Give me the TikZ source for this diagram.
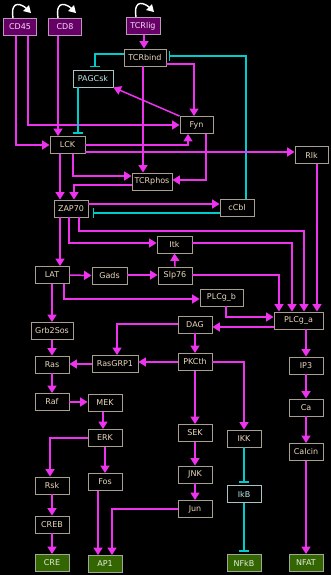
\documentclass[tikz,border=0pt]{standalone}
\usepackage{fontspec}
\setmainfont{DejaVu Sans}
\usetikzlibrary{arrows.meta}
\definecolor{nborder}{HTML}{A89F90}
\definecolor{ntext}{HTML}{EAD9BE}
\definecolor{pfill}{HTML}{660066}
\definecolor{pborder}{HTML}{B89AB8}
\definecolor{ptext}{HTML}{F4DDF4}
\definecolor{gfill}{HTML}{336600}
\definecolor{gborder}{HTML}{A0A89A}
\definecolor{gtext}{HTML}{E4EEE0}
\definecolor{ctext}{HTML}{BFE6E6}
\definecolor{cborder}{HTML}{A8C4C4}
\definecolor{mag}{HTML}{EE33EE}
\definecolor{cyn}{HTML}{00CCCC}
\newcommand\myvto[3][act]{\path #2 coordinate (tmpA); \draw[#1] (tmpA) -- (tmpA |- #3);}
\newcommand\myhto[3][act]{\path #2 coordinate (tmpA); \draw[#1] (tmpA) -- (tmpA -| #3);}
\tikzset{
  box/.style={draw=nborder, fill=black, text=ntext, minimum height=17pt, minimum width=34pt,
    inner sep=0pt, line width=0.9pt, font=\fontsize{8}{9}\selectfont},
  pbox/.style={box, fill=pfill, draw=pborder, text=ptext},
  gbox/.style={box, fill=gfill, draw=gborder, text=gtext},
  cbox/.style={box, draw=cborder, text=ctext},
  act/.style={color=mag, line width=1.5pt, -{Triangle[width=9pt,length=7.5pt]}},
  inh/.style={color=cyn, line width=1.5pt, -{Bar[width=10pt]}, shorten >=2.5pt},
  loopst/.style={color=white, line width=1.4pt, -{Triangle[width=8pt,length=7pt]}}
}
\begin{document}
\begin{tikzpicture}[x=1pt,y=-1pt]
\useasboundingbox (0,0) rectangle (331,575);
\fill[black] (0,0) rectangle (331,575);
% nodes
\node[pbox, minimum width=33pt] (CD45) at (20,27) {CD45};
\node[pbox, minimum width=33pt] (CD8) at (65,27) {CD8};
\node[pbox] (TCRlig) at (143,26) {TCRlig};
\node[box, minimum width=42pt] (TCRbind) at (145,57.5) {TCRbind};
\node[cbox, minimum width=40pt] (PAGCsk) at (93,78.5) {PAGCsk};
\node[box, minimum width=33pt] (Fyn) at (196.5,125) {Fyn};
\node[box, minimum width=35pt] (LCK) at (67.5,145) {LCK};
\node[box, minimum width=33pt] (Rlk) at (311.5,155) {Rlk};
\node[box, minimum width=40pt] (TCRphos) at (152,181.5) {TCRphos};
\node[box] (ZAP70) at (71,208.5) {ZAP70};
\node[box] (cCbl) at (237,208) {cCbl};
\node[box, minimum width=35pt] (Itk) at (174.5,244.5) {Itk};
\node[box] (LAT) at (52,275) {LAT};
\node[box, minimum width=35pt] (Gads) at (109.5,275.5) {Gads};
\node[box] (Slp76) at (175,275.5) {Slp76};
\node[box, minimum width=43pt] (PLCgb) at (221.5,297.5) {PLCg\_b};
\node[box, minimum width=49pt] (PLCga) at (298.5,320.5) {PLCg\_a};
\node[box] (DAG) at (195,324.5) {DAG};
\node[box, minimum width=42pt] (Grb2Sos) at (52,331) {Grb2Sos};
\node[box] (Ras) at (52,364.5) {Ras};
\node[box, minimum width=46pt] (RasGRP1) at (115,364) {RasGRP1};
\node[box] (PKCth) at (195,362) {PKCth};
\node[box] (IP3) at (306,365.5) {IP3};
\node[box] (Raf) at (52,402) {Raf};
\node[box] (MEK) at (105,403) {MEK};
\node[box] (Ca) at (306,407.5) {Ca};
\node[box] (ERK) at (105,438) {ERK};
\node[box] (SEK) at (195,433) {SEK};
\node[box] (IKK) at (244,438.5) {IKK};
\node[box] (Calcin) at (306,452) {Calcin};
\node[box] (Rsk) at (52,485.5) {Rsk};
\node[box] (Fos) at (105,482) {Fos};
\node[box] (JNK) at (195,474.5) {JNK};
\node[cbox] (IkB) at (244,494) {IkB};
\node[box] (Jun) at (195,509) {Jun};
\node[box] (CREB) at (52,524.5) {CREB};
\node[gbox] (CRE) at (52,563) {CRE};
\node[gbox] (AP1) at (105,564) {AP1};
\node[gbox] (NFkB) at (244,563) {NFkB};
\node[gbox] (NFAT) at (306,563) {NFAT};
% self loops
\foreach \n in {CD45,CD8,TCRlig}{
  \draw[loopst] ([xshift=-7pt]\n.north) .. controls +(-3,-20) and +(-8,-8) .. ([xshift=11pt,yshift=5pt]\n.north);
}
% edges
\myvto{([xshift=1pt]TCRlig.south)}{TCRbind.north}
\draw[act] ([xshift=-4pt]CD45.south) |- (LCK.west);
\draw[act] ([xshift=8pt]CD45.south) |- (Fyn.west);
\myvto{([xshift=-7pt]CD8.south)}{LCK.north}
\draw[inh] ([yshift=3.5pt]TCRbind.west) -| ([xshift=2pt]PAGCsk.north);
\myvto{([xshift=-2pt]TCRbind.south)}{TCRphos.north}
\draw[act] ([yshift=-6.5pt]TCRbind.east) -| ([xshift=-2.5pt]Fyn.north);
\draw[inh] ([xshift=9pt]cCbl.north) |- ([yshift=1.5pt]TCRbind.east);
\draw[act] (Fyn.north west) -- (PAGCsk.south east);
\myvto[inh]{([xshift=-15pt]PAGCsk.south)}{LCK.north}
\draw[act] (LCK.east) -| ([xshift=-8.5pt]Fyn.south);
\myhto{([yshift=-7pt]LCK.east)}{Rlk.west}
\draw[act] ([xshift=5.5pt]LCK.south) |- ([yshift=5.5pt]TCRphos.west);
\myvto{([xshift=-7.5pt]LCK.south)}{ZAP70.north}
\draw[act] ([xshift=9.5pt]Fyn.south) |- ([yshift=1.5pt]TCRphos.east);
\draw[act] ([yshift=-3.5pt]TCRphos.west) -| ([xshift=3pt]ZAP70.north);
\myhto{([yshift=4.5pt]ZAP70.east)}{cCbl.west}
\myhto[inh, shorten >=4.5pt]{([yshift=-5pt]cCbl.west)}{ZAP70.east}
\myvto{([xshift=-11pt]ZAP70.south)}{LAT.north}
\draw[act] ([xshift=-2pt]ZAP70.south) |- ([yshift=1.5pt]Itk.west);
\draw[act] ([xshift=8pt]ZAP70.south) -- ++(0,13.55) -| ([xshift=5.5pt]PLCga.north);
\myvto{([xshift=5.5pt]Rlk.south)}{PLCga.north}
\draw[act] ([yshift=1.5pt]Itk.east) -| ([xshift=-6.5pt]PLCga.north);
\draw[act] ([yshift=0.5pt]Slp76.east) -| ([xshift=-19.5pt]PLCga.north);
\draw[act] (Slp76.north) -- (Itk.south);
\draw[act] (LAT.east) -- (Gads.west);
\myhto{([yshift=0.5pt]Gads.east)}{Slp76.west}
\draw[act] ([xshift=12pt]LAT.south) |- ([yshift=-1.5pt]PLCgb.west);
\draw[act] (LAT.south) -- (Grb2Sos.north);
\draw[act] ([xshift=4.5pt]PLCgb.south) |- ([yshift=3.5pt]PLCga.west);
\myhto{([yshift=-6.5pt]PLCga.west)}{DAG.east}
\draw[act] ([yshift=0.5pt]DAG.west) -| ([xshift=2pt]RasGRP1.north);
\draw[act] (DAG.south) -- (PKCth.north);
\myvto{([xshift=7.5pt]PLCga.south)}{IP3.north}
\draw[act] (Grb2Sos.south) -- (Ras.north);
\myhto{(RasGRP1.west)}{Ras.east}
\myhto{(PKCth.west)}{RasGRP1.east}
\draw[act] (PKCth.south) -- (SEK.north);
\draw[act] (PKCth.east) -| (IKK.north);
\draw[act] (Ras.south) -- (Raf.north);
\myhto{(Raf.east)}{MEK.west}
\myvto{([xshift=-2pt]MEK.south)}{ERK.north}
\draw[act] (ERK.west) -| ([xshift=-2pt]Rsk.north);
\draw[act] (ERK.south) -- (Fos.north);
\draw[act] (SEK.south) -- (JNK.north);
\draw[act] (JNK.south) -- (Jun.north);
\draw[inh] (IKK.south) -- (IkB.north);
\draw[inh] (IkB.south) -- (NFkB.north);
\draw[act] (IP3.south) -- (Ca.north);
\draw[act] (Ca.south) -- (Calcin.north);
\draw[act] (Calcin.south) -- (NFAT.north);
\draw[act] (Rsk.south) -- (CREB.north);
\draw[act] (CREB.south) -- (CRE.north);
\myvto{([xshift=-7pt]Fos.south)}{AP1.north}
\draw[act] (Jun.west) -| ([xshift=7pt]AP1.north);
\end{tikzpicture}
\end{document}
